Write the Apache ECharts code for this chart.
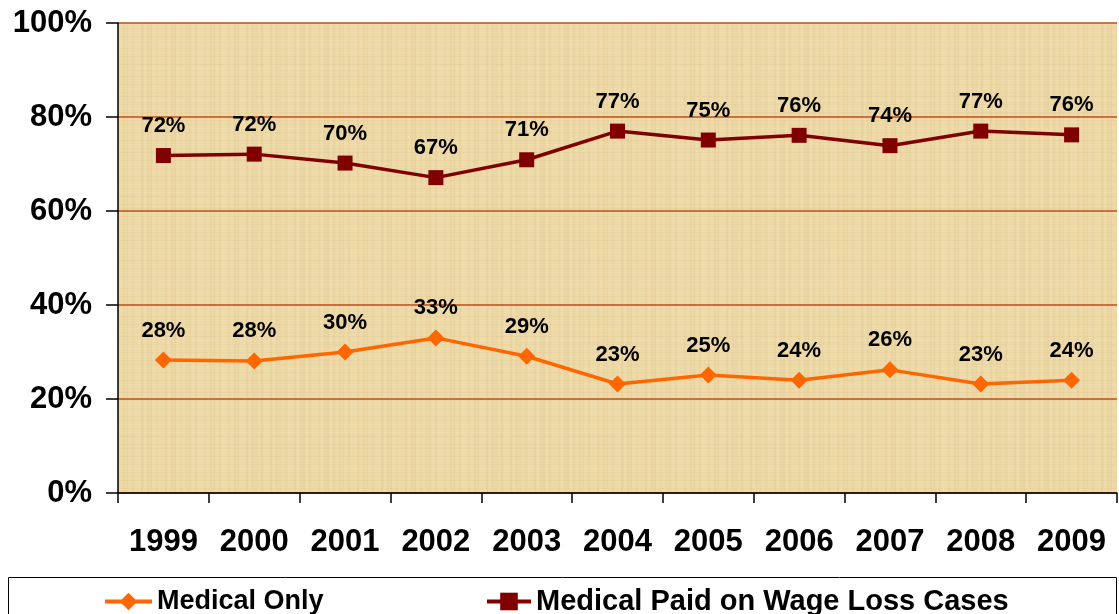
<!DOCTYPE html>
<html>
<head>
<meta charset="utf-8">
<script src="https://cdn.jsdelivr.net/npm/echarts@6/dist/echarts.min.js"></script>
<style>
html,body{margin:0;padding:0;background:#fff;}
#chart{width:1119px;height:614px;}
</style>
</head>
<body>
<div id="chart"></div>
<script>
var years = ['1999','2000','2001','2002','2003','2004','2005','2006','2007','2008','2009'];
var medicalOnly = [28.3, 28.1, 30.0, 33.0, 29.1, 23.2, 25.1, 24.0, 26.2, 23.2, 24.0];
var wageLoss = [71.8, 72.1, 70.2, 67.1, 70.9, 77.0, 75.1, 76.1, 73.9, 77.0, 76.2];
var yTicks = [0, 20, 40, 60, 80, 100];
var seriesNames = ['Medical Only', 'Medical Paid on Wage Loss Cases'];

// papyrus-like texture pattern (decorative)
function makeTexture() {
  var c = document.createElement('canvas');
  c.width = 240; c.height = 240;
  var g = c.getContext('2d');
  g.fillStyle = '#EDD9A7';
  g.fillRect(0, 0, 240, 240);
  for (var i = 0; i < 240; i += 3) {
    var a = 0.04 + 0.05 * Math.abs(Math.sin(i * 0.37) * Math.cos(i * 0.11));
    g.fillStyle = (Math.sin(i * 1.3) > 0) ? 'rgba(190,150,80,' + a + ')' : 'rgba(255,248,220,' + a + ')';
    g.fillRect(i, 0, 2, 240);
  }
  for (var j = 0; j < 240; j += 4) {
    var b = 0.03 + 0.04 * Math.abs(Math.cos(j * 0.29));
    g.fillStyle = (Math.cos(j * 0.9) > 0) ? 'rgba(180,140,70,' + b + ')' : 'rgba(255,250,230,' + b + ')';
    g.fillRect(0, j, 240, 1);
  }
  return c;
}

var chart = echarts.init(document.getElementById('chart'));
var font = '"Liberation Sans", Arial, sans-serif';
chart.setOption({
  animation: false,
  backgroundColor: '#ffffff',
  grid: {
    left: 118, right: 2, top: 23, bottom: 121,
    show: true,
    backgroundColor: { image: makeTexture(), repeat: 'repeat' },
    borderWidth: 0
  },
  graphic: [{
    type: 'rect',
    shape: { x: 8.5, y: 577.5, width: 1108, height: 60 },
    style: { fill: '#fff', stroke: '#000', lineWidth: 1 },
    z: -1
  }],
  legend: [{
    data: [seriesNames[0]],
    left: 98, top: 582,
    itemWidth: 47, itemHeight: 22, itemGap: 0,
    lineStyle: { width: 4 },
    textStyle: { fontFamily: font, fontWeight: 'bold', fontSize: 27, color: '#000', lineHeight: 29 }
  }, {
    data: [seriesNames[1]],
    left: 480, top: 582,
    itemWidth: 44, itemHeight: 22, itemGap: 0,
    lineStyle: { width: 4 },
    textStyle: { fontFamily: font, fontWeight: 'bold', fontSize: 29, color: '#000', lineHeight: 29 }
  }],
  xAxis: {
    type: 'category',
    data: years,
    boundaryGap: true,
    axisLine: { lineStyle: { color: '#000', width: 1.5 } },
    axisTick: { show: true, length: 10, interval: 0, lineStyle: { color: '#000', width: 1.5 } },
    axisLabel: { interval: 0, margin: 34, fontFamily: font, fontWeight: 'bold', fontSize: 31, color: '#000' },
    splitLine: { show: false }
  },
  yAxis: {
    type: 'value',
    min: yTicks[0], max: yTicks[yTicks.length - 1], interval: 20,
    axisLine: { show: true, lineStyle: { color: '#000', width: 1.5 } },
    axisTick: { show: true, length: 12, lineStyle: { color: '#000', width: 1.5 } },
    axisLabel: { margin: 26, formatter: '{value}%', fontFamily: font, fontWeight: 'bold', fontSize: 31, color: '#000' },
    splitLine: { show: true, lineStyle: { color: '#BF4E1B', width: 1.5 } }
  },
  series: [{
    name: seriesNames[0],
    type: 'line',
    data: medicalOnly,
    symbol: 'diamond',
    symbolSize: 17,
    itemStyle: { color: '#FF6600' },
    lineStyle: { color: '#FF6600', width: 3.5 },
    label: {
      show: true, position: 'top', distance: 10,
      formatter: function (p) { return Math.round(p.value) + '%'; },
      fontFamily: font, fontWeight: 'bold', fontSize: 22, color: '#000'
    }
  }, {
    name: seriesNames[1],
    type: 'line',
    data: wageLoss,
    symbol: 'rect',
    symbolSize: 15,
    itemStyle: { color: '#800000' },
    lineStyle: { color: '#800000', width: 3.5 },
    label: {
      show: true, position: 'top', distance: 11,
      formatter: function (p) { return Math.round(p.value) + '%'; },
      fontFamily: font, fontWeight: 'bold', fontSize: 22, color: '#000'
    }
  }]
});
</script>
</body>
</html>
